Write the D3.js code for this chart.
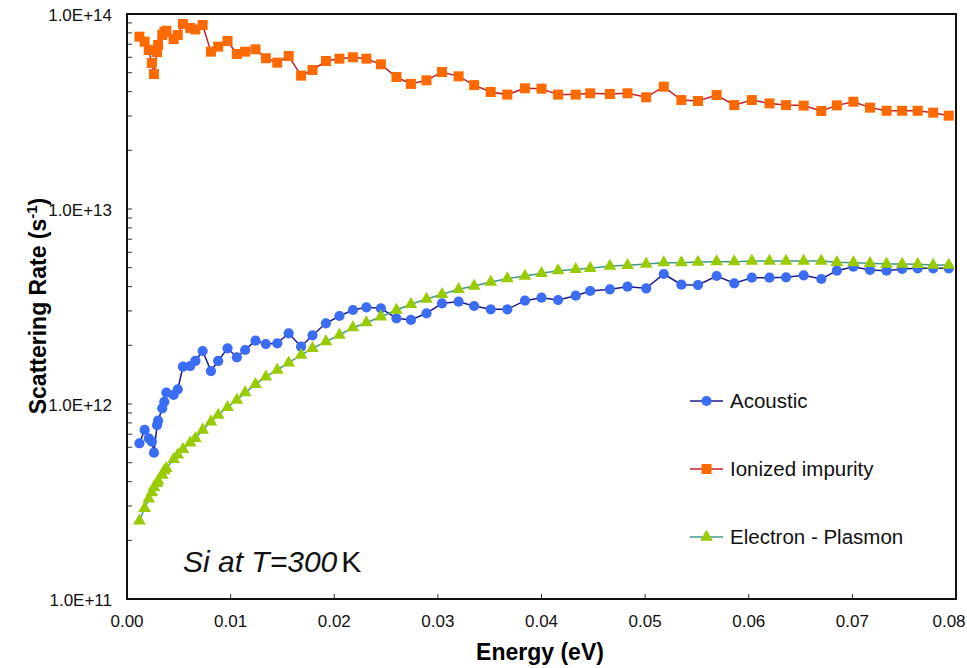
<!DOCTYPE html>
<html>
<head>
<meta charset="utf-8">
<script src="https://cdn.jsdelivr.net/npm/d3@7"></script>
<style>
  body { margin: 0; background: #fff; }
  svg { font-family: "Liberation Sans", Arial, sans-serif; }
</style>
</head>
<body>
<svg id="chart" width="967" height="668"></svg>
<script>
// Energy (eV) shared by all three series
var energy = [0.0012, 0.0017, 0.0021, 0.0024, 0.0026, 0.0029, 0.0030, 0.0034, 0.0036, 0.0038,
  0.0045, 0.0049, 0.0054, 0.0061, 0.0066, 0.0073, 0.0081, 0.0088, 0.0097, 0.0106,
  0.0114, 0.0124, 0.0134, 0.0145, 0.0156, 0.0168, 0.0179, 0.0192, 0.0205, 0.0218,
  0.0231, 0.0245, 0.0260, 0.0274, 0.0289, 0.0304, 0.0320, 0.0335, 0.0351, 0.0367,
  0.0384, 0.0400, 0.0416, 0.0433, 0.0447, 0.0466, 0.0483, 0.0501, 0.0518, 0.0535,
  0.0551, 0.0569, 0.0586, 0.0603, 0.0620, 0.0636, 0.0653, 0.0670, 0.0685, 0.0701,
  0.0717, 0.0733, 0.0748, 0.0763, 0.0778, 0.0793];

// rates in units of 1e12 s^-1
var acoustic = [0.629, 0.736, 0.667, 0.641, 0.563, 0.780, 0.821, 0.950, 1.027, 1.143,
  1.112, 1.190, 1.553, 1.566, 1.662, 1.870, 1.476, 1.662, 1.930, 1.736,
  1.892, 2.112, 2.031, 2.048, 2.305, 1.967, 2.251, 2.593, 2.827, 3.034,
  3.132, 3.096, 2.752, 2.697, 2.918, 3.285, 3.347, 3.181, 3.059, 3.059,
  3.387, 3.509, 3.415, 3.593, 3.798, 3.875, 3.995, 3.920, 4.642, 4.091,
  4.076, 4.533, 4.159, 4.443, 4.443, 4.464, 4.571, 4.375, 4.826, 5.059,
  4.866, 4.826, 4.924, 4.965, 4.965, 4.965];

var ionized = [76.5, 72.1, 65.4, 56.1, 49.2, 63.8, 69.3, 78.0, 80.8, 82.1,
  74.4, 78.0, 88.9, 84.8, 83.3, 87.8, 64.1, 68.0, 72.7, 62.4,
  64.1, 65.9, 59.3, 56.3, 60.9, 48.3, 51.6, 57.4, 59.0, 60.0,
  59.0, 55.2, 47.5, 43.8, 45.7, 50.4, 47.9, 43.2, 39.8, 38.6,
  41.6, 41.4, 38.6, 38.6, 39.2, 38.9, 39.2, 37.4, 42.4, 36.2,
  35.8, 38.4, 34.1, 36.2, 34.8, 34.1, 33.9, 31.8, 34.0, 35.5,
  33.1, 31.9, 31.9, 31.9, 31.2, 30.1];

var plasmon = [0.252, 0.292, 0.326, 0.351, 0.374, 0.392, 0.404, 0.432, 0.455, 0.468,
  0.520, 0.548, 0.586, 0.633, 0.667, 0.736, 0.811, 0.878, 0.962, 1.048,
  1.143, 1.262, 1.380, 1.494, 1.628, 1.783, 1.930, 2.087, 2.259, 2.462,
  2.612, 2.803, 3.034, 3.246, 3.456, 3.653, 3.875, 4.029, 4.224, 4.391,
  4.533, 4.680, 4.826, 4.907, 4.965, 5.102, 5.144, 5.224, 5.305, 5.305,
  5.349, 5.368, 5.368, 5.413, 5.413, 5.413, 5.413, 5.413, 5.330, 5.305,
  5.267, 5.224, 5.224, 5.205, 5.163, 5.163];

var xTicks = [0, 0.01, 0.02, 0.03, 0.04, 0.05, 0.06, 0.07, 0.08];
var yTicks = [1e11, 1e12, 1e13, 1e14];
var yTickLabels = ["1.0E+11", "1.0E+12", "1.0E+13", "1.0E+14"];

var series = [
  {name: "Acoustic", values: acoustic, line: "#1a1a8c", fill: "#3a6cf4", symbol: d3.symbolCircle, size: 82, ly: 401},
  {name: "Ionized impurity", values: ionized, line: "#c0202a", fill: "#ff6a00", symbol: d3.symbolSquare, size: 100, ly: 469},
  {name: "Electron - Plasmon", values: plasmon, line: "#3f9a8c", fill: "#99cc00", symbol: d3.symbolTriangle, size: 70, ly: 537}
];

const marginLeft = 127, marginRight = 956, marginTop = 14, marginBottom = 599;

const svg = d3.select("#chart");

const x = d3.scaleLinear().domain([0, 0.08]).range([marginLeft, marginRight]);
const y = d3.scaleLog().domain([1e11, 1e14]).range([marginBottom, marginTop]);

// minor log ticks (inside)
var minor = [];
[1e11, 1e12, 1e13].forEach(function(d) {
  for (var k = 2; k <= 9; k++) minor.push(d * k);
});

const axes = svg.append("g");

axes.selectAll(".ytick")
  .data(minor.concat(yTicks))
  .enter()
  .append("line")
    .attr("x1", marginLeft)
    .attr("x2", marginLeft + 5)
    .attr("y1", d => y(d))
    .attr("y2", d => y(d))
    .attr("stroke", "#333")
    .attr("stroke-width", 1);

axes.selectAll(".xtick")
  .data(xTicks)
  .enter()
  .append("line")
    .attr("x1", d => x(d))
    .attr("x2", d => x(d))
    .attr("y1", marginBottom)
    .attr("y2", marginBottom - 5)
    .attr("stroke", "#333")
    .attr("stroke-width", 1);

axes.selectAll(".ylabel")
  .data(yTicks)
  .enter()
  .append("text")
    .attr("x", marginLeft - 15)
    .attr("y", d => y(d) + 7)
    .attr("text-anchor", "end")
    .attr("font-size", 17)
    .attr("fill", "#111")
    .text((d, i) => yTickLabels[i]);

axes.selectAll(".xlabel")
  .data(xTicks)
  .enter()
  .append("text")
    .attr("x", d => Math.min(x(d), 949))
    .attr("y", 627)
    .attr("text-anchor", "middle")
    .attr("font-size", 17)
    .attr("fill", "#111")
    .text(d => d.toFixed(2));

// axis titles
svg.append("text")
  .attr("x", 540)
  .attr("y", 660)
  .attr("text-anchor", "middle")
  .attr("font-size", 23)
  .attr("font-weight", "bold")
  .text("Energy (eV)");

var ytitle = svg.append("text")
  .attr("transform", "translate(46, 306) rotate(-90)")
  .attr("text-anchor", "middle")
  .attr("font-size", 23)
  .attr("font-weight", "bold");
ytitle.append("tspan").text("Scattering Rate (s");
ytitle.append("tspan").attr("dy", -9).attr("font-size", 15).text("-1");
ytitle.append("tspan").attr("dy", 9).text(")");

// clip to plot area
svg.append("clipPath").attr("id", "plotclip")
  .append("rect")
    .attr("x", marginLeft)
    .attr("y", marginTop)
    .attr("width", marginRight - marginLeft)
    .attr("height", marginBottom - marginTop);

const plot = svg.append("g").attr("clip-path", "url(#plotclip)");
var symbol = d3.symbol();

series.forEach(function(s) {
  var pts = energy.map((e, i) => ({e: e, v: s.values[i] * 1e12}));
  var g = plot.append("g");

  g.append("path")
    .datum(pts)
    .attr("fill", "none")
    .attr("stroke", s.line)
    .attr("stroke-width", 1.5)
    .attr("d", d3.line().x(d => x(d.e)).y(d => y(d.v)));

  g.selectAll("path.mark")
    .data(pts)
    .enter()
    .append("path")
      .attr("class", "mark")
      .attr("transform", d => `translate(${x(d.e)},${y(d.v)})`)
      .attr("d", symbol.type(s.symbol).size(s.size))
      .attr("fill", s.fill);
});

// frame
svg.append("rect")
  .attr("x", marginLeft)
  .attr("y", marginTop)
  .attr("width", marginRight - marginLeft)
  .attr("height", marginBottom - marginTop)
  .attr("fill", "none")
  .attr("stroke", "#111")
  .attr("stroke-width", 2);

// legend
var legend = svg.append("g");
var legend_element = legend.selectAll("g")
  .data(series)
  .enter()
  .append("g")
    .attr("transform", d => `translate(690, ${d.ly})`);

legend_element.append("line")
  .attr("x1", 0).attr("x2", 33)
  .attr("y1", 0).attr("y2", 0)
  .attr("stroke", d => d.line)
  .attr("stroke-width", 1.5);

legend_element.append("path")
  .attr("transform", "translate(16.5,0)")
  .attr("d", d => symbol.type(d.symbol).size(d.size)())
  .attr("fill", d => d.fill);

legend_element.append("text")
  .attr("x", 40)
  .attr("y", 7)
  .attr("font-size", 20.5)
  .attr("fill", "#111")
  .text(d => d.name);

// annotation
var note = svg.append("text")
  .attr("x", 183)
  .attr("y", 572)
  .attr("font-size", 30)
  .attr("fill", "#111");
note.append("tspan").attr("font-style", "italic").text("Si at T=300");
note.append("tspan").attr("dx", 4).text("K");
</script>
</body>
</html>
